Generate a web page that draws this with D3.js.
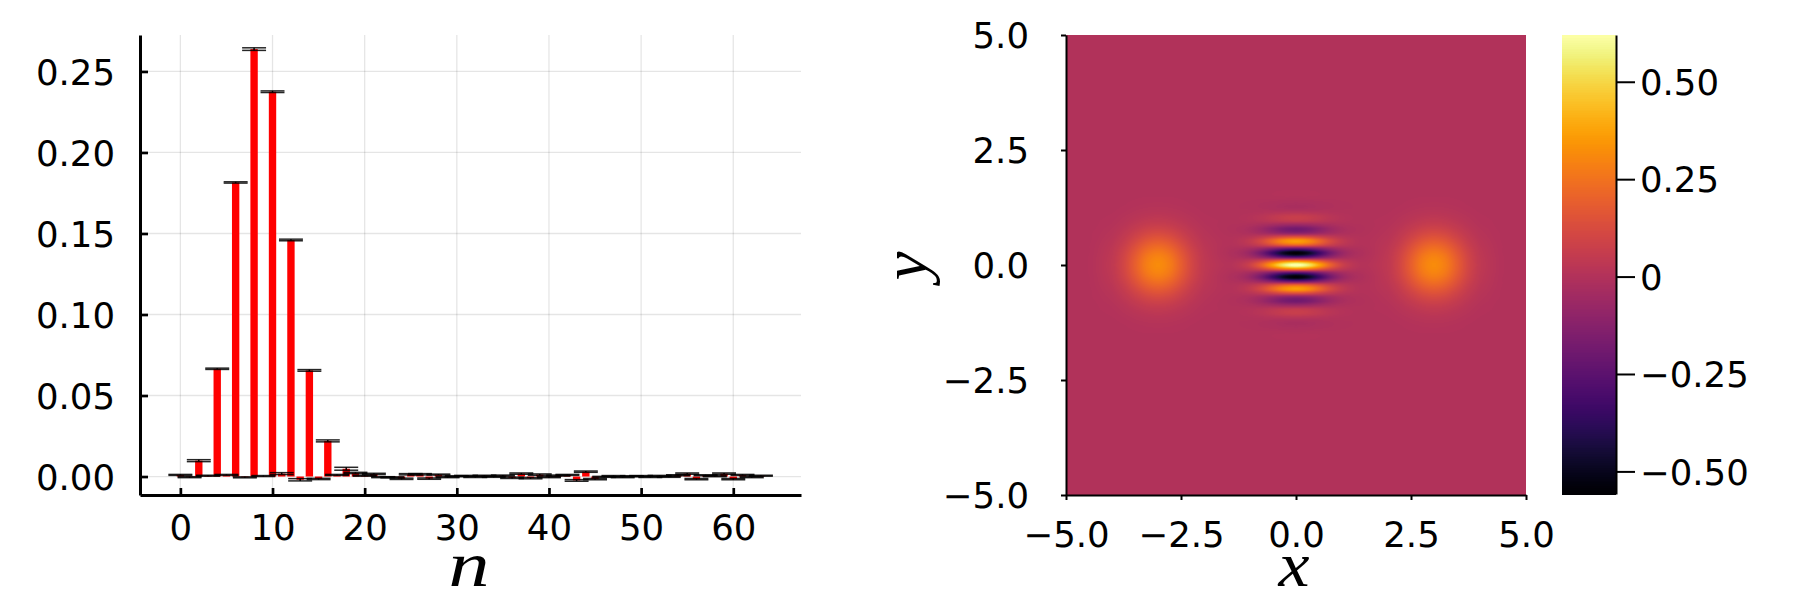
<!DOCTYPE html>
<html lang="en">
<head>
  <meta charset="UTF-8" />
  <title>Photon distribution and Wigner function</title>
  <style>
    body {
      margin: 0;
      background: #fff;
    }
    svg {
      display: block;
    }
    text {
      font-family: "DejaVu Sans", sans-serif;
      font-size: 35.5px;
      fill: #000;
    }
    .axis-title {
      font-family: "Liberation Serif", serif;
      font-style: italic;
      font-size: 64px;
    }
  </style>
</head>
<body>
  <div id="chart"></div>

  <script src="https://d3js.org/d3.v7.min.js"></script>
  <script>
    // Left panel: probabilities, n = 0..63
    const photonN = d3.range(0, 64);
    const probs = [
      0.0010, -0.0004, 0.0098, 0.0005, 0.0665, 0.0010, 0.1815, -0.0005,
      0.2638, 0.0003, 0.2375, 0.0018, 0.1460, -0.0020, 0.0655, -0.0015,
      0.0220, 0.0010, 0.0048, 0.0022, 0.0005, 0.0016, -0.0004, -0.0005,
      -0.0014, 0.0014, 0.0014, -0.0013, 0.0012, -0.0004, 0.0002, 0.0004,
      -0.0003, 0.0005, -0.0002, 0.0006, -0.0008, 0.0018, -0.0010, 0.0012,
      -0.0004, 0.0006, 0.0010, -0.0024, 0.0030, -0.0016, -0.0002, 0.0003,
      -0.0004, 0.0002, 0.0003, -0.0003, 0.0004, -0.0002, 0.0008, 0.0018,
      -0.0016, 0.0008, 0.0002, 0.0018, -0.0016, 0.0010, -0.0004, 0.0005
    ];
    const probErrors = [
      0.0003, 0.0003, 0.0006, 0.0003, 0.0004, 0.0003, 0.0004, 0.0003,
      0.0008, 0.0003, 0.0005, 0.0006, 0.0005, 0.0007, 0.0005, 0.0004,
      0.0006, 0.0003, 0.0009, 0.0004, 0.0003, 0.0004, 0.0003, 0.0003,
      0.0004, 0.0004, 0.0004, 0.0004, 0.0003, 0.0003, 0.0003, 0.0003,
      0.0003, 0.0003, 0.0003, 0.0003, 0.0004, 0.0004, 0.0004, 0.0004,
      0.0003, 0.0003, 0.0003, 0.0005, 0.0004, 0.0004, 0.0003, 0.0003,
      0.0003, 0.0003, 0.0003, 0.0003, 0.0003, 0.0003, 0.0003, 0.0004,
      0.0004, 0.0003, 0.0003, 0.0004, 0.0004, 0.0003, 0.0003, 0.0003
    ];
    const leftXTicks = [0, 10, 20, 30, 40, 50, 60];
    const leftYTicks = [0, 0.05, 0.10, 0.15, 0.20, 0.25];

    // Right panel: values estimated from the picture against its colorbar,
    // in thousandths. Rows run top to bottom, columns left to right.
    const gridX = [-5, -4.5, -4, -3.75, -3.5, -3.25, -3, -2.75, -2.5, -2.25, -2, -1.5, -1.25, -1, -0.75, -0.5, -0.25, 0, 0.25, 0.5, 0.75, 1, 1.25, 1.5, 2, 2.25, 2.5, 2.75, 3, 3.25, 3.5, 3.75, 4, 4.5, 5];
    const gridY = [5, 2, 1.75, 1.5, 1.309, 1.222, 1.134, 1.047, 0.96, 0.873, 0.785, 0.698, 0.611, 0.524, 0.436, 0.349, 0.262, 0.175, 0.087, 0, -0.087, -0.175, -0.262, -0.349, -0.436, -0.524, -0.611, -0.698, -0.785, -0.873, -0.96, -1.047, -1.134, -1.222, -1.309, -1.5, -1.75, -2, -5];
    const gridValues = [
      [0,0,0,0,0,0,0,0,0,0,0, 0,0,0,0,0,0,0,0,0,0,0,0,0, 0,0,0,0,0,0,0,0,0,0,0],
      [0,0,0,0,0,0,0,0,0,0,0, 0,0,0,0,0,0,0,0,0,0,0,0,0, 0,0,0,0,0,0,0,0,0,0,0],
      [0,0,0,0,0,1,1,1,0,0,0, 0,0,0,0,0,0,0,0,0,0,0,0,0, 0,0,0,1,1,1,0,0,0,0,0],
      [0,0,0,1,2,3,3,3,2,1,0, 0,0,1,1,3,4,4,4,3,1,1,0,0, 0,1,2,3,3,3,2,1,0,0,0],
      [0,0,1,3,6,9,10,9,6,3,1, 0,-1,-3,-7,-12,-18,-20,-18,-12,-7,-3,-1,0, 1,3,6,9,10,9,6,3,1,0,0],
      [0,0,2,5,10,14,16,14,10,5,2, 0,-1,-2,-5,-10,-14,-16,-14,-10,-5,-2,-1,0, 2,5,10,14,16,14,10,5,2,0,0],
      [0,0,3,8,15,21,24,21,15,8,3, 0,1,3,8,15,21,24,21,15,8,3,1,0, 3,8,15,21,24,21,15,8,3,0,0],
      [0,0,5,12,22,31,36,31,22,12,5, 1,3,10,23,43,63,71,63,43,23,10,3,1, 5,12,22,31,36,31,22,12,5,0,0],
      [0,1,7,16,30,44,50,44,30,16,7, 2,2,7,16,30,44,50,44,30,16,7,2,2, 7,16,30,44,50,44,30,16,7,1,0],
      [0,1,9,22,42,61,69,61,42,22,9, 0,-3,-9,-23,-42,-61,-69,-61,-42,-23,-9,-3,0, 9,22,42,61,69,61,42,22,9,1,0],
      [0,1,13,30,56,82,93,82,56,30,13, -1,-8,-25,-60,-112,-164,-185,-164,-112,-60,-25,-8,-1, 13,30,56,82,93,82,56,30,13,1,0],
      [0,2,16,39,73,106,120,106,73,39,16, 1,-5,-16,-39,-73,-106,-120,-106,-73,-39,-16,-5,1, 16,39,73,106,120,106,73,39,16,2,0],
      [0,2,20,49,91,133,151,133,91,49,20, 4,7,20,49,91,133,151,133,91,49,20,7,4, 20,49,91,133,151,133,91,49,20,2,0],
      [0,2,25,59,111,162,183,162,111,59,25, 6,16,50,119,223,324,368,324,223,119,50,16,6, 25,59,111,162,183,162,111,59,25,2,0],
      [0,3,29,70,132,192,218,192,132,70,29, 5,10,29,71,132,192,218,192,132,71,29,10,5, 29,70,132,192,218,192,132,70,29,3,0],
      [0,3,34,81,151,220,249,220,151,81,34, 0,-11,-34,-81,-151,-220,-250,-220,-151,-81,-34,-11,0, 34,81,151,220,249,220,151,81,34,3,0],
      [0,3,37,90,168,245,277,245,168,90,37, -3,-24,-75,-181,-337,-490,-555,-490,-337,-181,-75,-24,-3, 37,90,168,245,277,245,168,90,37,3,0],
      [0,4,40,97,181,264,299,264,181,97,40, 1,-13,-40,-97,-181,-264,-299,-264,-181,-97,-40,-13,1, 40,97,181,264,299,264,181,97,40,4,0],
      [0,4,42,101,190,277,313,277,190,101,42, 7,14,42,102,190,277,314,277,190,102,42,14,7, 42,101,190,277,313,277,190,101,42,4,0],
      [0,4,43,103,193,281,318,281,193,103,43, 11,28,86,207,386,562,637,562,386,207,86,28,11, 43,103,193,281,318,281,193,103,43,4,0],
      [0,4,42,101,190,277,313,277,190,101,42, 7,14,42,102,190,277,314,277,190,102,42,14,7, 42,101,190,277,313,277,190,101,42,4,0],
      [0,4,40,97,181,264,299,264,181,97,40, 1,-13,-40,-97,-181,-264,-299,-264,-181,-97,-40,-13,1, 40,97,181,264,299,264,181,97,40,4,0],
      [0,3,37,90,168,245,277,245,168,90,37, -3,-24,-75,-181,-337,-490,-555,-490,-337,-181,-75,-24,-3, 37,90,168,245,277,245,168,90,37,3,0],
      [0,3,34,81,151,220,249,220,151,81,34, 0,-11,-34,-81,-151,-220,-250,-220,-151,-81,-34,-11,0, 34,81,151,220,249,220,151,81,34,3,0],
      [0,3,29,70,132,192,218,192,132,70,29, 5,10,29,71,132,192,218,192,132,71,29,10,5, 29,70,132,192,218,192,132,70,29,3,0],
      [0,2,25,59,111,162,183,162,111,59,25, 6,16,50,119,223,324,368,324,223,119,50,16,6, 25,59,111,162,183,162,111,59,25,2,0],
      [0,2,20,49,91,133,151,133,91,49,20, 4,7,20,49,91,133,151,133,91,49,20,7,4, 20,49,91,133,151,133,91,49,20,2,0],
      [0,2,16,39,73,106,120,106,73,39,16, 1,-5,-16,-39,-73,-106,-120,-106,-73,-39,-16,-5,1, 16,39,73,106,120,106,73,39,16,2,0],
      [0,1,13,30,56,82,93,82,56,30,13, -1,-8,-25,-60,-112,-164,-185,-164,-112,-60,-25,-8,-1, 13,30,56,82,93,82,56,30,13,1,0],
      [0,1,9,22,42,61,69,61,42,22,9, 0,-3,-9,-23,-42,-61,-69,-61,-42,-23,-9,-3,0, 9,22,42,61,69,61,42,22,9,1,0],
      [0,1,7,16,30,44,50,44,30,16,7, 2,2,7,16,30,44,50,44,30,16,7,2,2, 7,16,30,44,50,44,30,16,7,1,0],
      [0,0,5,12,22,31,36,31,22,12,5, 1,3,10,23,43,63,71,63,43,23,10,3,1, 5,12,22,31,36,31,22,12,5,0,0],
      [0,0,3,8,15,21,24,21,15,8,3, 0,1,3,8,15,21,24,21,15,8,3,1,0, 3,8,15,21,24,21,15,8,3,0,0],
      [0,0,2,5,10,14,16,14,10,5,2, 0,-1,-2,-5,-10,-14,-16,-14,-10,-5,-2,-1,0, 2,5,10,14,16,14,10,5,2,0,0],
      [0,0,1,3,6,9,10,9,6,3,1, 0,-1,-3,-7,-12,-18,-20,-18,-12,-7,-3,-1,0, 1,3,6,9,10,9,6,3,1,0,0],
      [0,0,0,1,2,3,3,3,2,1,0, 0,0,1,1,3,4,4,4,3,1,1,0,0, 0,1,2,3,3,3,2,1,0,0,0],
      [0,0,0,0,0,1,1,1,0,0,0, 0,0,0,0,0,0,0,0,0,0,0,0,0, 0,0,0,1,1,1,0,0,0,0,0],
      [0,0,0,0,0,0,0,0,0,0,0, 0,0,0,0,0,0,0,0,0,0,0,0,0, 0,0,0,0,0,0,0,0,0,0,0],
      [0,0,0,0,0,0,0,0,0,0,0, 0,0,0,0,0,0,0,0,0,0,0,0,0, 0,0,0,0,0,0,0,0,0,0,0]
    ];
    const heatTicks = [-5, -2.5, 0, 2.5, 5];
    const colorTicks = [-0.5, -0.25, 0, 0.25, 0.5];
    const colorMin = -0.558;
    const colorMax = 0.62;

    const minus = s => s.replace("-", "\u2212");

    const svg = d3.select("#chart")
      .append("svg")
      .attr("width", 1800)
      .attr("height", 600);

    drawBars();
    drawHeatmap();
    drawColorbar();

    // Bars with error caps
    function drawBars() {
      const x = d3.scaleLinear().domain([-4.38, 67.35]).range([140, 801]);
      const y = d3.scaleLinear().domain([-0.0114, 0.2725]).range([495, 35]);
      const g = svg.append("g");

      // Grid
      g.selectAll(".gx").data(leftXTicks).enter().append("line")
        .attr("x1", d => x(d)).attr("x2", d => x(d))
        .attr("y1", 35).attr("y2", 495)
        .attr("stroke", "#000").attr("stroke-opacity", 0.1).attr("stroke-width", 1.3);
      g.selectAll(".gy").data(leftYTicks).enter().append("line")
        .attr("x1", 140).attr("x2", 801)
        .attr("y1", d => y(d)).attr("y2", d => y(d))
        .attr("stroke", "#000").attr("stroke-opacity", 0.1).attr("stroke-width", 1.3);

      // Bars
      g.selectAll(".bar").data(photonN).enter().append("rect")
        .attr("x", n => x(n - 0.4))
        .attr("width", x(0.8) - x(0))
        .attr("y", n => Math.min(y(probs[n]), y(0)))
        .attr("height", n => Math.abs(y(probs[n]) - y(0)))
        .attr("fill", "#ff0000");

      // Error bars
      g.selectAll(".stem").data(photonN).enter().append("line")
        .attr("x1", n => x(n)).attr("x2", n => x(n))
        .attr("y1", n => y(probs[n] + probErrors[n]))
        .attr("y2", n => y(probs[n] - probErrors[n]))
        .attr("stroke", "#000").attr("stroke-width", 1.5);
      [1, -1].forEach(sign => {
        g.selectAll(".cap" + sign).data(photonN).enter().append("line")
          .attr("x1", n => x(n - 1.3)).attr("x2", n => x(n + 1.3))
          .attr("y1", n => y(probs[n] + sign * probErrors[n]))
          .attr("y2", n => y(probs[n] + sign * probErrors[n]))
          .attr("stroke", "#000").attr("stroke-width", 1.5).attr("stroke-opacity", 0.85);
      });

      // Axes
      const xAxis = g.append("g").attr("transform", "translate(0,495)")
        .call(d3.axisBottom(x).tickValues(leftXTicks).tickSize(-7).tickSizeOuter(0).tickFormat(d3.format("d")));
      const yAxis = g.append("g").attr("transform", "translate(140,0)")
        .call(d3.axisLeft(y).tickValues(leftYTicks).tickSize(-8).tickSizeOuter(0).tickFormat(d3.format(".2f")));
      styleAxis(xAxis, 3);
      styleAxis(yAxis, 3);
      xAxis.selectAll("line").attr("stroke-width", 2.7);
      yAxis.selectAll("line").attr("stroke-width", 2.7);
      xAxis.selectAll("text").attr("y", 0).attr("dy", 0).attr("transform", "translate(0,45)");
      yAxis.selectAll("text").attr("x", -25).attr("dy", "0.36em");

      g.append("text").attr("class", "axis-title")
        .attr("x", 469).attr("y", 586).attr("text-anchor", "middle")
        .attr("textLength", 41).attr("lengthAdjust", "spacingAndGlyphs").text("n");
    }

    // Smooth lookup along one row or column of the table
    function smoothAt(values, f) {
      const i = Math.min(Math.floor(f), values.length - 2);
      const t = f - i;
      const p0 = values[Math.max(i - 1, 0)];
      const p1 = values[i];
      const p2 = values[i + 1];
      const p3 = values[Math.min(i + 2, values.length - 1)];
      return 0.5 * (2 * p1 + (p2 - p0) * t + (2 * p0 - 5 * p1 + 4 * p2 - p3) * t * t + (3 * p1 - p0 - 3 * p2 + p3) * t * t * t);
    }

    // Heatmap: one image painted from the value table through the scales
    function drawHeatmap() {
      const x = d3.scaleLinear().domain([-5, 5]).range([1066, 1526]);
      const y = d3.scaleLinear().domain([5, -5]).range([35, 495]);
      const color = d3.scaleSequential(d3.interpolateInferno).domain([colorMin, colorMax]).clamp(true);
      const colIndex = d3.scaleLinear().domain(gridX).range(d3.range(gridX.length));
      const rowIndex = d3.scaleLinear().domain(gridY).range(d3.range(gridY.length));

      const size = 460;
      const canvas = document.createElement("canvas");
      canvas.width = size;
      canvas.height = size;
      const ctx = canvas.getContext("2d");
      for (let py = 0; py < size; py++) {
        const rf = rowIndex(y.invert(35 + py + 0.5));
        const column = gridX.map((_, c) => smoothAt(gridValues.map(row => row[c]), rf));
        for (let px = 0; px < size; px++) {
          const cf = colIndex(x.invert(1066 + px + 0.5));
          ctx.fillStyle = color(smoothAt(column, cf) / 1000);
          ctx.fillRect(px, py, 1, 1);
        }
      }

      const g = svg.append("g");
      g.append("image")
        .attr("x", 1066).attr("y", 35)
        .attr("width", size).attr("height", size)
        .attr("href", canvas.toDataURL());

      const fmt = d => minus(d3.format(".1f")(d));
      const xAxis = g.append("g").attr("transform", "translate(0,495)")
        .call(d3.axisBottom(x).tickValues(heatTicks).tickSize(5).tickSizeOuter(0).tickFormat(fmt));
      const yAxis = g.append("g").attr("transform", "translate(1066,0)")
        .call(d3.axisLeft(y).tickValues(heatTicks).tickSize(5).tickSizeOuter(0).tickFormat(fmt));
      styleAxis(xAxis, 2);
      styleAxis(yAxis, 2);
      xAxis.selectAll("text").attr("y", 0).attr("dy", 0).attr("transform", "translate(0,52)");
      yAxis.selectAll("text").attr("x", -37).attr("dy", "0.36em");

      g.append("text").attr("class", "axis-title")
        .attr("x", 1294).attr("y", 586).attr("text-anchor", "middle")
        .attr("textLength", 31).attr("lengthAdjust", "spacingAndGlyphs").text("x");
      g.append("text").attr("class", "axis-title")
        .attr("transform", "translate(926,266) rotate(-90)")
        .attr("text-anchor", "middle")
        .attr("textLength", 29).attr("lengthAdjust", "spacingAndGlyphs").text("y");
    }

    // Colorbar to the right of the heatmap
    function drawColorbar() {
      const y = d3.scaleLinear().domain([colorMin, colorMax]).range([494, 35]);
      const color = d3.scaleSequential(d3.interpolateInferno).domain([colorMin, colorMax]);
      const levels = d3.range(0, 256).map(i => colorMin + (colorMax - colorMin) * i / 256);
      const step = (colorMax - colorMin) / 256;

      const g = svg.append("g");
      g.selectAll("rect").data(levels).enter().append("rect")
        .attr("x", 1562).attr("width", 54)
        .attr("y", d => y(d + step))
        .attr("height", d => y(d) - y(d + step) + 1)
        .attr("shape-rendering", "crispEdges")
        .attr("fill", d => color(d + step / 2));

      const fmt = d => d === 0 ? "0" : minus(d3.format(".2f")(d));
      const axis = g.append("g").attr("transform", "translate(1616,0)")
        .call(d3.axisRight(y).tickValues(colorTicks).tickSize(19).tickSizeOuter(0).tickPadding(5).tickFormat(fmt));
      styleAxis(axis, 2);
      axis.selectAll("text").attr("dy", "0.36em");
    }

    function styleAxis(axis, width) {
      axis.select(".domain").attr("stroke", "#000").attr("stroke-width", width);
      axis.selectAll(".tick line").attr("stroke", "#000").attr("stroke-width", 2);
      axis.selectAll("text").attr("fill", "#000").style("font-size", "35.5px");
      axis.attr("font-family", null).attr("font-size", null);
    }
  </script>
</body>
</html>
